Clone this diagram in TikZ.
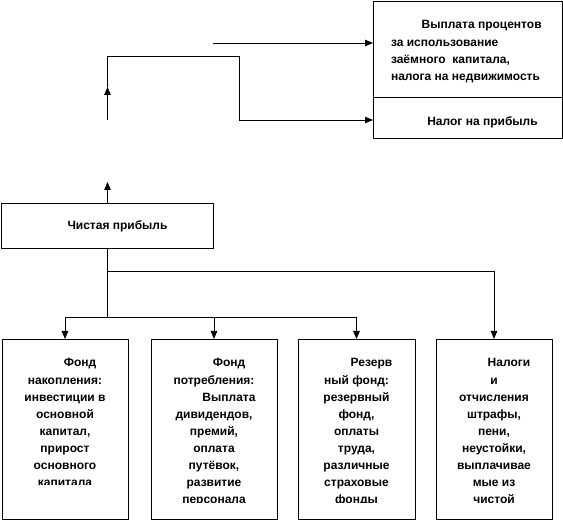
\documentclass[tikz,border=0pt]{standalone}
\usepackage{fontspec}
\setmainfont{Liberation Sans}
\usetikzlibrary{arrows.meta}
\newcommand\cvtext[2]{\vtop{\hsize=#1\parindent=0pt\centering\noindent #2\par}}
\newcommand\lvtext[2]{\vtop{\hsize=#1\parindent=0pt\raggedright\noindent #2\par}}
\begin{document}
\begin{tikzpicture}[x=1pt,y=-1pt,
  frame/.style={draw, line width=0.8pt, inner sep=0pt, outer sep=0pt},
  line/.style={line width=0.8pt},
  arr/.style={line width=0.8pt, -{Triangle[length=8pt,width=6.5pt]}},
  txt/.style={inner sep=0pt, outer sep=0pt, font=\bfseries\fontsize{12}{17.1}\selectfont}]
\useasboundingbox (0,0) rectangle (563,521);
% boxes
\node[frame, minimum width=189pt, minimum height=96pt] (top) at (467.5,49) {};
\node[frame, minimum width=189pt, minimum height=41pt] (tax) at (467.5,117.5) {};
\node[frame, minimum width=212pt, minimum height=45pt] (net) at (107.5,225.5) {};
\node[frame, minimum width=126pt, minimum height=180pt] (b1) at (65,429) {};
\node[frame, minimum width=126pt, minimum height=180pt] (b2) at (214,429) {};
\node[frame, minimum width=117pt, minimum height=180pt] (b3) at (356.5,429) {};
\node[frame, minimum width=116pt, minimum height=180pt] (b4) at (494,429) {};
% texts
\node[txt, anchor=base west] (ttop) at (391,29) {\lvtext{165pt}{\hspace*{30.7pt}Выплата процентов\\за использование\\заёмного\ \ капитала,\\налога на недвижимость}};
\node[txt, anchor=base] (ttax) at (467.5,125.5) {\hspace*{30pt}Налог на прибыль};
\node[txt, anchor=base] (tnet) at (107.5,230) {\hspace*{20pt}Чистая прибыль};
\begin{scope}
\clip (b1.north west) rectangle (b1.east |- 0,484.5);
\node[txt, anchor=base] (t1) at (65,367) {\cvtext{126pt}{\hspace*{30pt}Фонд\\накопления:\\инвестиции в\\основной\\капитал,\\прирост\\основного\\капитала}};
\end{scope}
\begin{scope}
\clip (b2.north west) rectangle (b2.east |- 0,503);
\node[txt, anchor=base] (t2) at (214,367) {\cvtext{126pt}{\hspace*{30pt}Фонд\\потребления:\\\hspace*{30pt}Выплата\\дивидендов,\\премий,\\оплата\\путёвок,\\развитие\\персонала}};
\end{scope}
\begin{scope}
\clip (b3.north west) rectangle (b3.east |- 0,503);
\node[txt, anchor=base] (t3) at (356.5,367) {\cvtext{117pt}{\hspace*{30pt}Резерв\\ный фонд:\\резервный\\фонд,\\оплаты\\труда,\\различные\\страховые\\фонды}};
\end{scope}
\node[txt, anchor=base] (t4) at (494,367) {\cvtext{116pt}{\hspace*{30pt}Налоги\\и\\отчисления\\штрафы,\\пени,\\неустойки,\\выплачивае\\мые из\\чистой}};
% connectors
\coordinate (s1) at (213,43);
\draw[arr] (s1) -- (s1 -| top.west);
\coordinate (u1) at (107.5,120);
\coordinate (u1m) at (107.5,87);
\coordinate (c1) at (107.5,56);
\coordinate (c2) at (239,56);
\coordinate (c3) at (239,120);
\draw[arr] (u1) -- (u1m);
\draw[line] (u1m) -- (c1) -- (c2) -- (c3);
\draw[arr] (c3) -- (c3 -| tax.west);
\coordinate (u2) at (107.5,182);
\draw[arr] (net.north) -- (u2);
\coordinate (j1) at (107.5,271.5);
\coordinate (j2) at (107.5,317.5);
\draw[line] (net.south) -- (j2);
\draw[line] (j1) -- (j1 -| b4.north);
\draw[arr] (j1 -| b4.north) -- (b4.north);
\draw[line] (j2 -| b1.north) -- (j2 -| b3.north);
\draw[arr] (j2 -| b1.north) -- (b1.north);
\draw[arr] (j2 -| b2.north) -- (b2.north);
\draw[arr] (j2 -| b3.north) -- (b3.north);
\end{tikzpicture}
\end{document}
